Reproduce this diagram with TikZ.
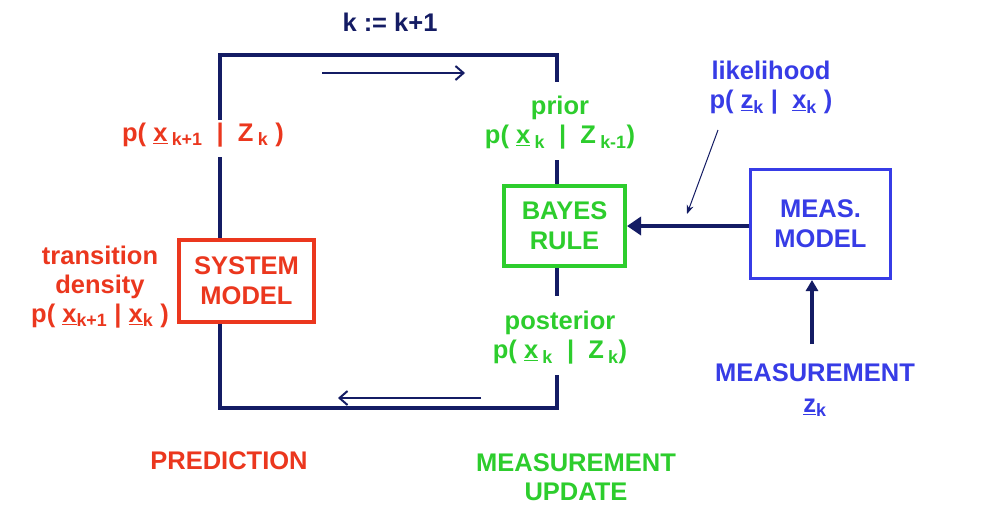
\documentclass[tikz,border=0pt]{standalone}
\usepackage{fontspec}
\setmainfont{Liberation Sans}
\usetikzlibrary{arrows.meta}
\definecolor{navy}{RGB}{20,28,100}
\definecolor{myred}{RGB}{235,55,30}
\definecolor{mygreen}{RGB}{45,205,45}
\definecolor{myblue}{RGB}{55,60,230}
\newcommand{\ux}{\underline{x}}
\newcommand{\uz}{\underline{z}}
\newcommand{\sbs}[1]{\textsubscript{#1}}
\begin{document}
\begin{tikzpicture}[x=1pt,y=-1pt,
  txt/.style={font=\bfseries\fontsize{25.5}{30}\selectfont, align=center, inner sep=0pt},
  loopline/.style={draw=navy, line width=4pt},
  thinarrow/.style={draw=navy, line width=2pt, -{Straight Barb[length=8pt,width=14pt,line width=2pt]}},
  modelbox/.style={txt, line width=4pt, minimum width=#1, align=center}
]
\useasboundingbox[fill=white] (0,0) rectangle (992,528);

% boxes
\node[modelbox=135pt, draw=myred, text=myred, minimum height=82pt] (sys) at (246.5,280.5) {SYSTEM\\MODEL};
\node[modelbox=121pt, draw=mygreen, text=mygreen, minimum height=80pt] (bayes) at (564.5,226) {BAYES\\RULE};
\node[modelbox=140pt, draw=myblue, text=myblue, minimum height=109pt, line width=3pt] (meas) at (820.5,224) {MEAS.\\MODEL};

% loop corners and gaps
\coordinate (tl) at (220,55);
\coordinate (tr) at (557,55);
\coordinate (bl) at (220,408);
\coordinate (br) at (557,408);
\coordinate (l1) at (220,118);
\coordinate (l2) at (220,157);
\coordinate (r1) at (557,80);
\coordinate (r2) at (557,160);
\coordinate (r3) at (557,296);
\coordinate (r4) at (557,375);

\draw[loopline, line cap=rect] (l1) -- (tl) -- (tr) -- (r1);
\draw[loopline] (l2) -- (sys.north -| l2);
\draw[loopline] (sys.south -| l2) -- (bl) -- (br) -- (r4);
\draw[loopline] (r2) -- (bayes.north -| r2);
\draw[loopline] (bayes.south -| r3) -- (r3);

% inner loop arrows
\coordinate (ta1) at (322,73);
\coordinate (ta2) at (465,73);
\coordinate (ba1) at (481,398);
\coordinate (ba2) at (338,398);
\draw[thinarrow] (ta1) -- (ta2);
\draw[thinarrow] (ba1) -- (ba2);

% texts
\node[txt, text=navy] (kk) at (390,22) {k := k+1};
\node[txt, text=myred] (pred1) at (203,135) {p( \ux\,\sbs{k+1} \ | \ Z\,\sbs{k} )};
\node[txt, text=myred] (trans) at (100,287) {transition\\[-1pt]density\\[-1pt]p( \ux\sbs{k+1} | \ux\sbs{k} )};
\node[txt, text=mygreen] (prior) at (560,123) {prior\\[-1pt]p( \ux\,\sbs{k} \ | \ Z\,\sbs{k-1})};
\node[txt, text=mygreen] (post) at (560,338) {posterior\\[-1pt]p( \ux\,\sbs{k} \ | \ Z\,\sbs{k})};
\node[txt, text=myblue] (lik) at (771,88) {likelihood\\[-1pt]p( \uz\sbs{k} | \ \ux\sbs{k} )};
\node[txt, text=myblue] (mtxt) at (815,373) {MEASUREMENT};
\node[txt, text=myblue] (zk) at (815,408) {\uz\sbs{k}};
\node[txt, text=myred] (predl) at (229,461) {PREDICTION};
\node[txt, text=mygreen] (updl) at (576,477) {MEASUREMENT\\[-1pt]UPDATE};

% measurement arrows
\draw[draw=navy, line width=4pt, -{Triangle[length=14pt,width=18pt]}] (meas.west |- bayes.east) -- (bayes.east);
\coordinate (la1) at (718,130);
\coordinate (la2) at (687,214);
\draw[draw=navy, line width=1pt, -{Stealth[length=9pt,width=7pt]}] (la1) -- (la2);
\coordinate (ma1) at (812,344);
\draw[draw=navy, line width=3.5pt, -{Triangle[length=11pt,width=12pt]}] (ma1) -- (meas.south -| ma1);
\end{tikzpicture}
\end{document}
